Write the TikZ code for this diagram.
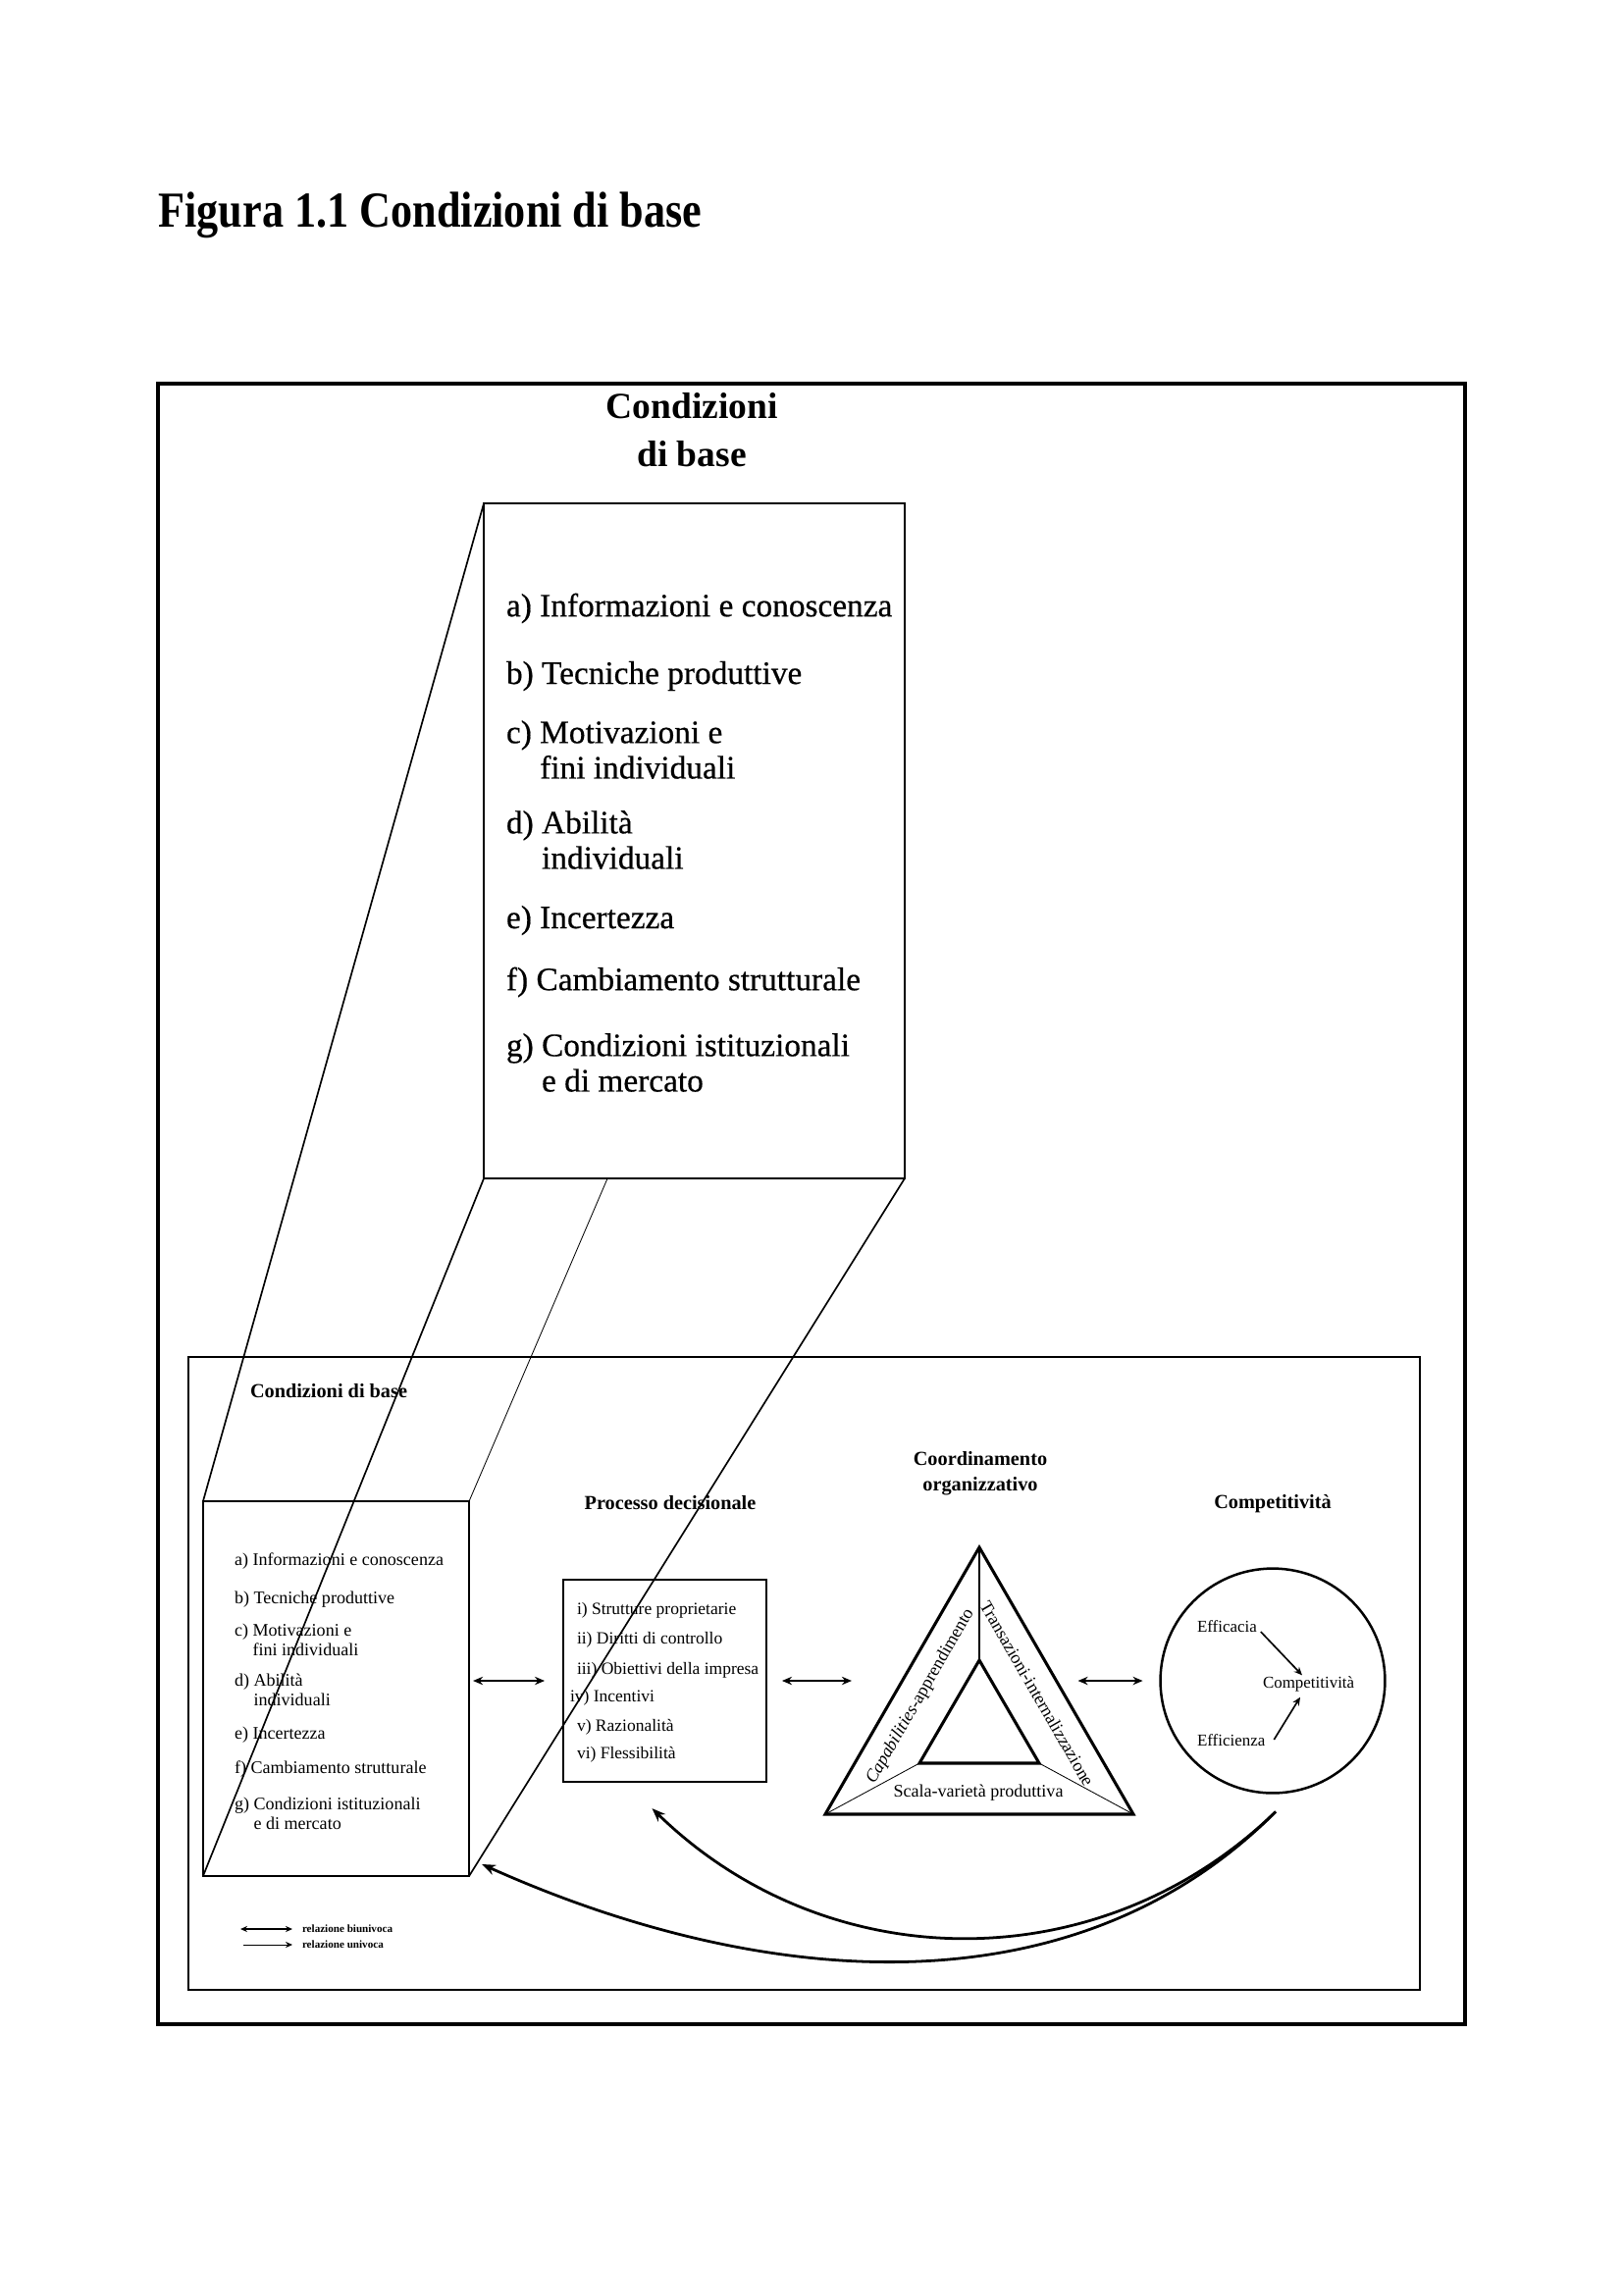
\documentclass[tikz,border=0pt]{standalone}
\usepackage{fontspec}
\setmainfont{Liberation Serif}
\newfontfamily\titlefont{Liberation Serif}[FakeStretch=0.86]
\newfontfamily\medfont{Liberation Serif}[FakeBold=0.5]
\usetikzlibrary{arrows.meta,calc}

\tikzset{
 bx/.style={draw, rectangle, inner sep=0pt, outer sep=0pt},
 txt/.style={inner sep=0pt, outer sep=0pt, anchor=west, align=left},
 bigitem/.style={txt, font=\medfont\fontsize{12}{13}\selectfont},
 smallitem/.style={txt, font=\fontsize{6.5}{7.2}\selectfont},
 miditem/.style={txt, font=\fontsize{6.3}{7}\selectfont},
 head/.style={inner sep=0pt, outer sep=0pt, align=center, font=\bfseries\fontsize{7.3}{9.4}\selectfont},
 tritext/.style={inner sep=0pt, outer sep=0pt, font=\fontsize{6.5}{7}\selectfont},
 ctext/.style={inner sep=0pt, outer sep=0pt, anchor=west, font=\fontsize{6.1}{7}\selectfont},
 legtext/.style={inner sep=0pt, outer sep=0pt, anchor=west, font=\bfseries\fontsize{4}{4.5}\selectfont},
 biarrow/.style={{Stealth[length=3.6pt,width=3pt]}-{Stealth[length=3.6pt,width=3pt]}, line width=0.6pt},
 curvearrow/.style={-{Stealth[length=5pt,width=3.8pt]}, line width=1pt},
 smallarrow/.style={-{Stealth[length=3pt,width=2.6pt]}, line width=0.6pt},
}

\begin{document}
\begin{tikzpicture}[x=0.36pt,y=-0.36pt]
\useasboundingbox (0,0) rectangle (1654,2339);

% title
\node[anchor=base west, inner sep=0pt, font=\titlefont\bfseries\fontsize{18.5}{20}\selectfont] (title) at (161,231) {Figura 1.1 Condizioni di base};

% frames
\draw[line width=1.2pt] (161,391) rectangle (1493,2063);
\draw[line width=1pt] (192,1383) rectangle (1447,2028);

% big magnified box
\node[bx, line width=0.7pt, minimum width=154.4pt, minimum height=247.7pt] (big) at (707.5,857) {};
\node[head, font=\bfseries\fontsize{13.5}{17.6}\selectfont] (bighead) at (705,438) {Condizioni\\di base};
\node[bigitem] (ba) at (516,620) {a) Informazioni e conoscenza};
\node[bigitem] (bb) at (516,689) {b) Tecniche produttive};
\node[bigitem] (bc) at (516,764) {c) Motivazioni e\\ \hphantom{c) }fini individuali};
\node[bigitem] (bd) at (516,856) {d) Abilità\\ \hphantom{d) }individuali};
\node[bigitem] (be) at (516,938) {e) Incertezza};
\node[bigitem] (bf) at (516,1001) {f) Cambiamento strutturale};
\node[bigitem] (bg) at (516,1083) {g) Condizioni istituzionali\\ \hphantom{g) }e di mercato};

% small box
\node[bx, line width=1pt, minimum width=97.6pt, minimum height=137.5pt] (small) at (342.5,1721) {};
\node[head, anchor=west] (hcond) at (255,1418) {Condizioni di base};
\node[smallitem] (sa) at (239,1591) {a) Informazioni e conoscenza};
\node[smallitem] (sb) at (239,1630) {b) Tecniche produttive};
\node[smallitem] (sc) at (239,1671) {c) Motivazioni e\\ \hphantom{c) }fini individuali};
\node[smallitem] (sd) at (239,1722) {d) Abilità\\ \hphantom{d) }individuali};
\node[smallitem] (se) at (239,1768) {e) Incertezza};
\node[smallitem] (sf) at (239,1803) {f) Cambiamento strutturale};
\node[smallitem] (sg) at (239,1848) {g) Condizioni istituzionali\\ \hphantom{g) }e di mercato};

% projection lines
\draw[line width=0.6pt] (big.north west) -- (small.north west);
\draw[line width=0.6pt] (big.south west) -- (small.south west);
\draw[line width=0.6pt] (big.south east) -- (small.south east);
\draw[line width=0.3pt] ($(big.south west)+(126,0)$) -- (small.north east);

% decision process box
\node[head] (hproc) at (683,1532) {Processo decisionale};
\node[bx, line width=1pt, minimum width=74.5pt, minimum height=74.2pt] (mid) at (677.5,1713) {};
\node[miditem] (m1) at (588,1641) {i) Strutture proprietarie};
\node[miditem] (m2) at (588,1671) {ii) Diritti di controllo};
\node[miditem] (m3) at (588,1702) {iii) Obiettivi della impresa};
\node[miditem] (m4) at (581,1730) {iv) Incentivi};
\node[miditem] (m5) at (588,1760) {v) Razionalità};
\node[miditem] (m6) at (588,1788) {vi) Flessibilità};

% organisational coordination triangle
\node[head] (hcoord) at (999,1502) {Coordinamento\\organizzativo};
\coordinate (tA) at (998,1577);
\coordinate (tB) at (841,1849);
\coordinate (tC) at (1155,1849);
\coordinate (iA) at (998,1692);
\coordinate (iB) at (937,1797);
\coordinate (iC) at (1059,1797);
\draw[line width=1.1pt, line join=miter] (tA) -- (tB) -- (tC) -- cycle;
\draw[line width=1.1pt, line join=miter] (iA) -- (iB) -- (iC) -- cycle;
\draw[line width=0.5pt] (tA) -- (iA);
\draw[line width=0.3pt] (tB) -- (iB);
\draw[line width=0.3pt] (tC) -- (iC);
\node[tritext, rotate=60] (cap) at (938,1729) {\textit{Capabilities}-apprendimento};
\node[tritext, rotate=-60] (trans) at (1057,1726) {Transazioni-internalizzazione};
\node[tritext] (scala) at (997,1827) {Scala-varietà produttiva};

% competitiveness circle
\node[head] (hcomp) at (1297,1533) {Competitività};
\node[draw, circle, line width=0.9pt, minimum size=82.4pt, inner sep=0pt, outer sep=0pt] (circ) at (1297,1713) {};
\node[ctext] (effa) at (1220,1658) {Efficacia};
\node[ctext] (effi) at (1220,1774) {Efficienza};
\node[ctext] (compi) at (1287,1716) {Competitività};
\draw[smallarrow] ($(effa.east)+(4,5)$) -- ($(compi.north west)+(40,-1)$);
\draw[smallarrow] ($(effi.east)+(9,-1)$) -- ($(compi.south west)+(38,6)$);

% two-way relations
\draw[biarrow] ($(small.east |- mid.west)+(4,0)$) -- ($(mid.west)+(-19,0)$);
\draw[biarrow] ($(mid.east)+(16,0)$) -- ($(mid.east)+(87,0)$);
\draw[biarrow] ($(circ.west)+(-84,0)$) -- ($(circ.west)+(-18,0)$);

% feedback curves
\draw[curvearrow] ($(circ.south)+(3,19)$) .. controls (1121,2020) and (843,2017) .. ($(mid.south)+(-13,27)$);
\draw[curvearrow] ($(circ.south)+(3,19)$) .. controls (1088,2059) and (765,2023) .. ($(small.south east)+(13,-12)$);

% legend
\node[legtext] (leg1) at (308,1966) {relazione biunivoca};
\node[legtext] (leg2) at (308,1982) {relazione univoca};
\draw[{Stealth[length=2.5pt,width=2.2pt]}-{Stealth[length=2.5pt,width=2.2pt]}, line width=0.6pt] ($(leg1.west)+(-63,0)$) -- ($(leg1.west)+(-10,0)$);
\draw[-{Stealth[length=2.5pt,width=2.2pt]}, line width=0.3pt] ($(leg2.west)+(-60,0)$) -- ($(leg2.west)+(-10,0)$);
\end{tikzpicture}
\end{document}
